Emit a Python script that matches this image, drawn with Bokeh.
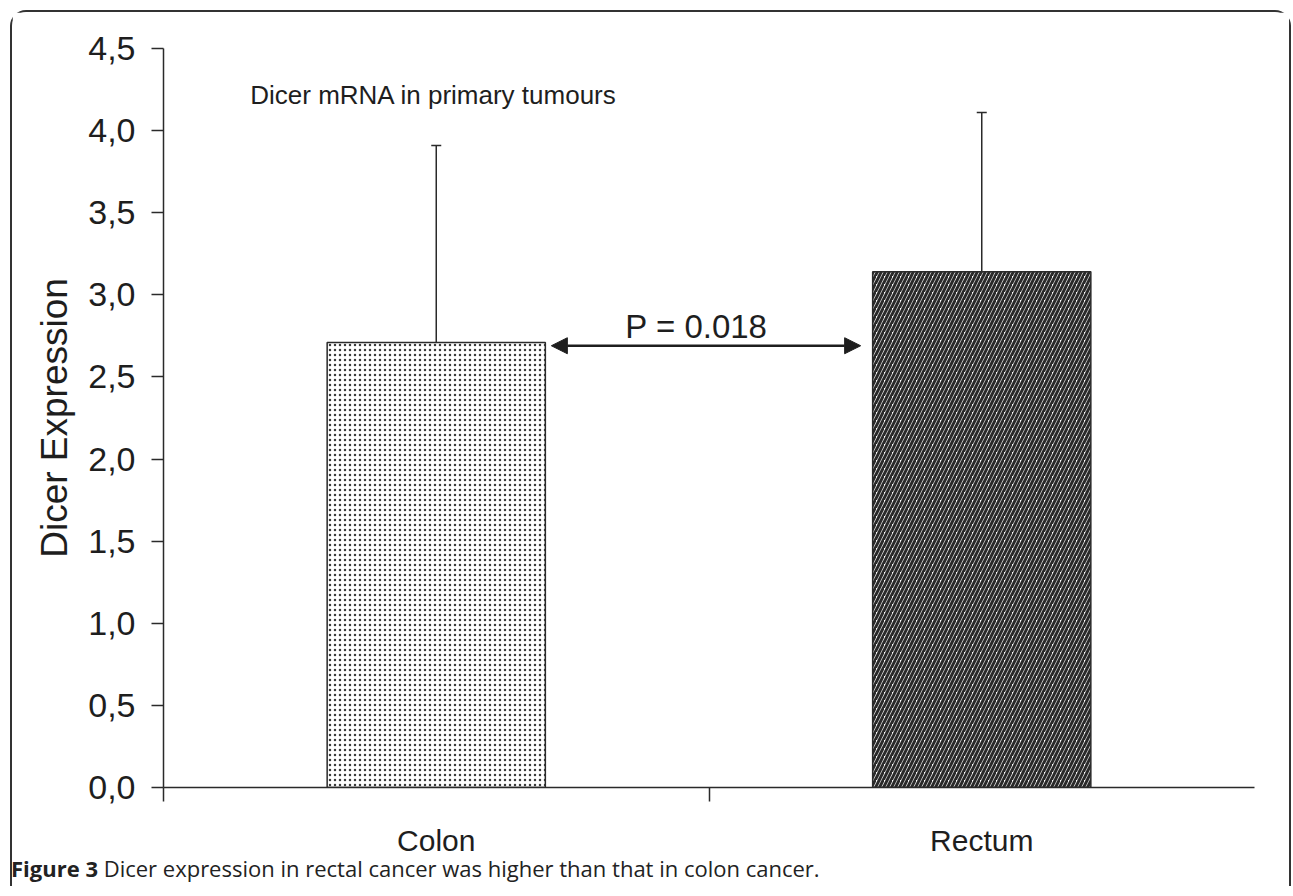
from bokeh.plotting import figure
from bokeh.models import (Whisker, TeeHead, Arrow, NormalHead, ColumnDataSource,
                          FixedTicker, Label, Div)
from bokeh.layouts import column
from bokeh.embed import file_html
from bokeh.resources import INLINE

# ---- data ----
categories = ["Colon", "Rectum"]
cat_pos = [0.5, 1.5]
means = [2.71, 3.14]
err_upper = [3.91, 4.11]
err_lower = [1.50, 2.20]
y_ticks = [0.0, 0.5, 1.0, 1.5, 2.0, 2.5, 3.0, 3.5, 4.0, 4.5]
y_tick_labels = ["0,0", "0,5", "1,0", "1,5", "2,0", "2,5", "3,0", "3,5", "4,0", "4,5"]
x_boundary_ticks = [0.0, 1.0]
chart_title = "Dicer mRNA in primary tumours"
p_value_text = "P = 0.018"
y_label = "Dicer Expression"
caption_bold = "Figure 3"
caption_rest = "Dicer expression in rectal cancer was higher than that in colon cancer."

FONT = "Liberation Sans"
TXT = "#1e1e1e"
LN = "#2a2a2a"

p = figure(width=1277, height=855, x_range=(0, 2.0), y_range=(0, 4.5),
           output_backend="svg", toolbar_location=None,
           min_border_left=151, min_border_right=35, min_border_top=36,
           min_border_bottom=80)
p.outline_line_color = None
p.xgrid.visible = False
p.ygrid.visible = False
p.background_fill_color = "white"
p.border_fill_color = "white"

# y axis
ya = p.yaxis[0]
ya.ticker = FixedTicker(ticks=y_ticks)
ya.major_label_overrides = {t: l for t, l in zip(y_ticks, y_tick_labels)}
ya.major_label_text_font = FONT
ya.major_label_text_font_size = "34px"
ya.major_label_text_color = TXT
ya.major_tick_out = 12
ya.major_tick_in = 0
ya.minor_tick_line_color = None
ya.major_tick_line_width = 1.5
ya.major_tick_line_color = LN
ya.axis_line_width = 1.5
ya.axis_line_color = LN
ya.major_label_standoff = 16
ya.axis_label = y_label
ya.axis_label_text_font = FONT
ya.axis_label_text_font_style = "normal"
ya.axis_label_text_font_size = "37px"
ya.axis_label_text_color = TXT
ya.axis_label_standoff = 10

# x axis
xa = p.xaxis[0]
xa.ticker = FixedTicker(ticks=cat_pos, minor_ticks=x_boundary_ticks)
xa.major_label_overrides = {x: c for x, c in zip(cat_pos, categories)}
xa.major_label_text_font = FONT
xa.major_label_text_font_size = "30px"
xa.major_label_text_color = TXT
xa.major_tick_line_color = None
xa.major_tick_out = 0
xa.major_tick_in = 0
xa.minor_tick_out = 14
xa.minor_tick_in = 0
xa.minor_tick_line_width = 1.5
xa.minor_tick_line_color = LN
xa.axis_line_width = 1.5
xa.axis_line_color = LN
xa.major_label_standoff = 22

# bars
p.vbar(x=[cat_pos[0]], top=[means[0]], width=0.4, bottom=0,
       fill_color="white", line_color=LN, line_width=1.5,
       hatch_pattern="dot", hatch_scale=5, hatch_weight=1.8, hatch_color="#3a3a3a")
p.vbar(x=[cat_pos[1]], top=[means[1]], width=0.4, bottom=0,
       fill_color="white", line_color=LN, line_width=1.5,
       hatch_pattern="right_diagonal_line", hatch_scale=8, hatch_weight=3,
       hatch_color="#2a2a2a")

# error bars
src = ColumnDataSource(dict(x=cat_pos, upper=err_upper, lower=err_lower))
w = Whisker(base="x", upper="upper", lower="lower", source=src,
            line_color=LN, line_width=1.5,
            upper_head=TeeHead(size=10, line_width=1.5, line_color=LN),
            lower_head=TeeHead(size=10, line_width=1.5, line_color=LN))
p.add_layout(w)

# double arrow with p-value
p.add_layout(Arrow(x_start=0.711, y_start=2.69, x_end=1.278, y_end=2.69,
                   line_color="#1e1e1e", line_width=2.5,
                   start=NormalHead(size=16, fill_color="#1e1e1e", line_color="#1e1e1e"),
                   end=NormalHead(size=16, fill_color="#1e1e1e", line_color="#1e1e1e")))
p.add_layout(Label(x=0.977, y=2.81, text=p_value_text, text_align="center",
                   text_baseline="middle", text_font=FONT, text_font_size="33px",
                   text_color=TXT))
p.add_layout(Label(x=0.159, y=4.214, text=chart_title, text_align="left",
                   text_baseline="middle", text_font=FONT, text_font_size="26px",
                   text_color=TXT))

cap = Div(text=f"<b>{caption_bold}</b> {caption_rest}", width=1270, height=26,
          styles={"font-family": "Open Sans", "font-size": "22px", "color": "#222",
                  "margin-top": "-12px", "margin-left": "-1px", "line-height": "26px"})

layout = column(p, cap, styles={"border": "2px solid #333", "border-bottom": "none",
                                "border-radius": "16px 16px 0 0",
                                "background-color": "white",
                                "margin": "10px 0 0 10px"})

open("out.html", "w").write(file_html(layout, INLINE))
